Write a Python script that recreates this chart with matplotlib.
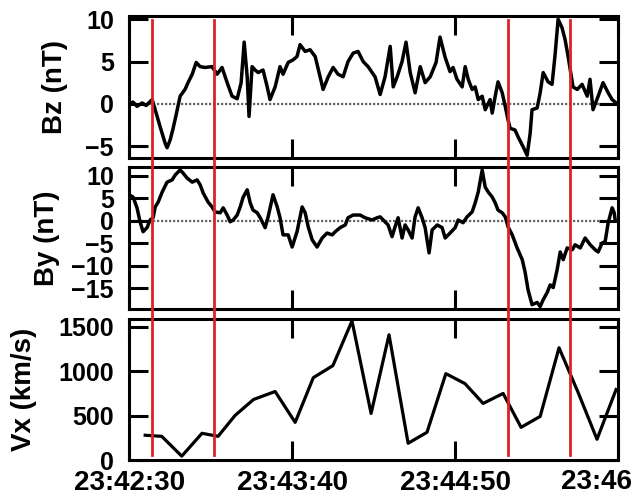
import numpy as np
import matplotlib.pyplot as plt
import matplotlib.transforms as mtransforms
from matplotlib.lines import Line2D

# === Data (time in seconds after 23:42:30) ===
bz_t = [0, 1.7, 3.4, 5.6, 7.3, 9.9, 11.2, 13.3, 15.5, 16.3, 17.6, 18.9, 20.2, 21.9,
        24.0, 25.3, 27.1, 28.8, 30.5, 32.6, 35.6, 37.8, 39.9, 42.1, 44.2, 46.4, 48.1,
        49.4, 50.7, 51.5, 52.8, 54.1, 55.4, 57.5, 59.3, 60.5, 62.7, 64.8, 66.1, 68.3,
        70.4, 72.1, 73.4, 75.6, 77.7, 79.9, 82.0, 83.3, 85.5, 87.6, 89.7, 91.9, 94.0,
        96.2, 98.3, 100.5, 102.6, 105.6, 107.8, 109.9, 112.1, 113.4, 115.1, 117.2,
        118.9, 120.7, 122.8, 125.0, 127.1, 129.3, 131.8, 133.5, 135.7, 137.8, 139.1,
        140.8, 143.0, 144.3, 145.6, 147.3, 148.6, 149.9, 151.6, 152.9, 155.0, 155.9,
        157.2, 158.4, 160.2, 161.5, 162.7, 163.6, 165.7, 167.0, 169.2, 170.9, 172.2,
        173.0, 175.2, 176.5, 177.8, 179.9, 181.6, 182.9, 184.2, 185.9, 187.2, 188.5,
        190.6, 192.4, 194.5, 196.7, 197.9, 199.2, 201.4, 203.5, 205.7, 207.4, 208.7]
bz = [0.0, 0.2, -0.3, 0.1, -0.2, 0.5, -0.7, -2.7, -4.7, -5.2, -4.3, -2.9, -1.3, 0.9,
      1.7, 2.5, 3.5, 4.9, 4.4, 4.3, 4.4, 3.5, 4.3, 2.5, 0.9, 0.6, 2.5,
      7.3, 3.2, -1.5, 4.4, 4.0, 3.7, 4.0, 2.0, 0.5, 2.0, 4.4, 3.5, 4.9,
      5.2, 5.6, 7.0, 6.2, 6.4, 5.6, 3.2, 1.7, 3.2, 4.3, 3.5, 3.2, 5.0,
      6.0, 6.2, 5.0, 4.4, 3.2, 1.1, 3.2, 6.8, 2.0, 3.2, 5.0,
      7.3, 3.7, 1.3, 4.4, 2.5, 3.2, 4.9, 7.9, 5.5, 3.8, 4.3,
      2.9, 2.0, 4.4, 2.9, 1.7, 2.0, 0.5, 0.9, -0.7, 0.5, -1.1,
      0.9, 2.6, 1.3, -0.3, -1.9, -2.9, -3.1, -3.9, -5.1, -6.1, -3.5,
      -0.7, -0.5, 1.3, 3.7, 2.6, 2.3, 5.8, 10.0, 9.0, 7.6, 5.6,
      2.0, 1.7, 2.3, 0.9, 2.9, -0.7, 0.9, 2.5, 1.3, 0.5, 0.2]

by_t = [0, 1.7, 3.4, 4.7, 6.0, 7.7, 9.0, 10.3, 11.2, 12.5, 14.2, 16.3, 18.5, 19.8,
        21.9, 23.2, 24.9, 27.1, 29.2, 30.5, 31.8, 33.9, 35.6, 36.9, 39.1, 40.4, 42.1,
        43.4, 44.7, 46.4, 47.7, 49.0, 50.7, 52.0, 53.2, 55.0, 56.3, 58.4, 59.7, 61.8,
        63.6, 64.8, 66.1, 68.3, 70.0, 72.1, 74.3, 75.6, 76.9, 78.6, 80.7, 82.9, 85.0,
        87.2, 88.5, 90.6, 92.8, 94.0, 96.2, 99.2, 101.3, 104.3, 106.5, 107.8, 109.1,
        111.2, 112.9, 114.2, 115.5, 117.2, 118.5, 119.8, 121.5, 122.8, 124.1, 125.8,
        127.1, 128.8, 130.1, 132.3, 134.4, 135.7, 137.8, 140.0, 141.3, 143.4, 145.1,
        147.3, 148.6, 149.9, 151.6, 152.9, 154.2, 155.9, 157.2, 158.4, 160.2, 161.5,
        162.7, 164.5, 166.6, 168.8, 170.0, 171.3, 173.0, 175.2, 176.5, 177.8, 179.5,
        180.8, 182.1, 183.8, 185.1, 186.4, 188.1, 190.3, 191.5, 193.7, 195.8, 198.0,
        200.1, 201.4, 203.1, 204.4, 205.7, 207.4, 208.3, 208.7]
by = [5.8, 5.3, 2.9, -0.2, -2.4, -1.5, 0.2, 0.7, 3.1, 4.2, 6.4, 8.6, 9.1, 10.2,
      11.3, 10.6, 9.5, 8.6, 9.1, 8.0, 6.2, 4.2, 3.1, 2.0, 1.8, 2.9, 1.3,
      -0.2, 0.2, 1.3, 3.1, 5.3, 6.9, 4.0, 2.4, 1.8, 0.7, -1.5, 0.9, 5.8,
      3.1, 0.7, -3.1, -3.1, -5.8, -2.4, 3.1, 1.8, -1.3, -4.2, -5.8, -3.8, -2.7,
      -3.1, -2.4, -1.5, -0.9, 0.7, 1.3, 1.3, 0.7, 0.2, 0.7, 0.9, 0.2,
      -0.9, -3.5, -1.3, 0.7, -3.8, -0.9, -2.0, -3.8, 0.9, 2.9, 0.7,
      -1.5, -7.1, -2.0, -0.9, -1.5, -3.8, -2.7, -1.5, 0.2, -0.4, 0.9,
      2.0, 4.0, 6.4, 11.3, 7.5, 6.4, 5.3, 4.0, 2.4, 1.8, 0.9,
      -1.3, -3.1, -6.0, -8.6, -11.3, -15.3, -18.6, -18.1, -19.0, -17.5, -15.9,
      -14.2, -14.8, -10.8, -6.9, -8.6, -6.0, -6.4, -5.3, -6.0, -3.8, -5.3,
      -6.4, -6.9, -4.9, -4.6, -0.4, 2.9, 1.8, 0.2]

vx_t = [6.9, 14.0, 22.6, 31.3, 38.2, 45.5, 53.4, 62.7, 71.3, 79.1, 87.5, 95.7, 103.9,
        111.6, 119.8, 127.9, 136.0, 144.2, 152.0, 160.6, 168.3, 176.5, 184.6, 192.8,
        200.9, 209.1]
vx = [280, 268, 45, 302, 268, 503, 682, 772, 425, 928, 1063, 1566, 525,
      1410, 190, 313, 973, 861, 638, 750, 369, 492, 1264, 761,
      235, 794]

boundaries = [10, 36.5, 162.5, 189.5]
tick_pos = [0, 70, 140, 210]
tick_labels = ["23:42:30", "23:43:40", "23:44:50", "23:46"]

plt.rcParams['font.family'] = ['Liberation Sans', 'DejaVu Sans']
plt.rcParams['font.weight'] = 'bold'

fig = plt.figure(figsize=(6.36, 4.98), dpi=100)
ax1 = fig.add_axes([0.203, 0.683, 0.769, 0.285])
ax2 = fig.add_axes([0.203, 0.380, 0.769, 0.285])
ax3 = fig.add_axes([0.203, 0.076, 0.769, 0.283])

ax1.plot(bz_t, bz, color='black', lw=2.5)
ax2.plot(by_t, by, color='black', lw=2.5)
ax3.plot(vx_t, vx, color='black', lw=2.3)
for ax in (ax1, ax2):
    ax.axhline(0, color='0.4', lw=1.6, ls=(0, (1, 0.8)), zorder=1)

ax1.set_ylim(-6.4, 10.4)
ax1.set_yticks([-5, 0, 5, 10])
ax2.set_ylim(-19.5, 12)
ax2.set_yticks([-15, -10, -5, 0, 5, 10])
ax3.set_ylim(0, 1585)
ax3.set_yticks([0, 500, 1000, 1500])

ax1.set_ylabel("Bz (nT)", fontsize=20, fontweight='bold')
ax2.set_ylabel("By (nT)", fontsize=20, fontweight='bold')
ax3.set_ylabel("Vx (km/s)", fontsize=20, fontweight='bold')
ax1.yaxis.set_label_coords(-0.125, 0.5)
ax2.yaxis.set_label_coords(-0.141, 0.5)
ax3.yaxis.set_label_coords(-0.188, 0.5)

for ax in (ax1, ax2, ax3):
    ax.set_xlim(0, 210)
    ax.set_xticks(tick_pos)
    ax.tick_params(direction='in', length=14, width=2.2, top=True, right=True,
                   labelsize=18, pad=11)
    ax.tick_params(axis='x', pad=7, labelsize=20)
    for s in ax.spines.values():
        s.set_linewidth(2.2)
    if ax is not ax3:
        ax.tick_params(labelbottom=False)

ax3.set_xticklabels(tick_labels[:-1] + [""])
ax3.annotate(tick_labels[-1], xy=(tick_pos[-1], 0), xycoords='data',
             xytext=(14, -9), textcoords='offset pixels', ha='right', va='top',
             fontsize=20, fontweight='bold', annotation_clip=False)

# red event lines crossing all three panels
trans = mtransforms.blended_transform_factory(ax3.transData, fig.transFigure)
for b in boundaries:
    fig.add_artist(Line2D([b, b], [0.0863, 0.960], transform=trans,
                          color='#dc2228', lw=2.0, zorder=5))

fig.savefig("out.png", dpi=100)
